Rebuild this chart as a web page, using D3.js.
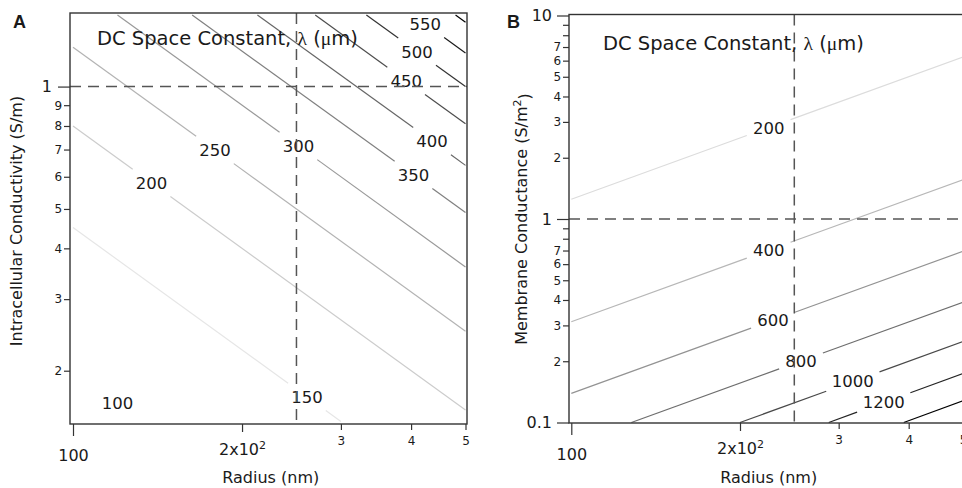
<!DOCTYPE html>
<html lang="en">
<head>
<meta charset="UTF-8">
<title>DC Space Constant</title>
<script src="https://d3js.org/d3.v7.min.js"></script>
<style>
  body { margin: 0; background: #fff; }
  svg text { font-family: "DejaVu Sans", sans-serif; fill: #1a1a1a; }
  .letter { font-family: "Liberation Sans", Arial, sans-serif; font-weight: bold; font-size: 18px; }
  .greek { font-family: "Liberation Serif", serif; }
</style>
</head>
<body>
<svg width="962" height="488"></svg>
<script>
// ---- values ----
// Panel A: intracellular conductivity (S/m) against radius (nm)
const levelsA = [100, 150, 200, 250, 300, 350, 400, 450, 500, 550, 600];
// the two ends of every contour, [radius nm, conductivity S/m]
const startA = [[100, 0.2], [100, 0.45], [100, 0.8], [100, 1.25], [120, 1.5], [163, 1.5],
                [213, 1.5], [270, 1.5], [333, 1.5], [403, 1.5], [480, 1.5]];
const endA = [[133, 0.15], [300, 0.15], [500, 0.16], [500, 0.25], [500, 0.36], [500, 0.49],
              [500, 0.64], [500, 0.81], [500, 1.0], [500, 1.21], [500, 1.44]];
// radius (nm) where each contour carries its label, null = unlabelled
const labelAtA = [120, 261, 138, 179, 252, 404, 436, 392, 410, 424, null];

// Panel B: membrane conductance (S/m^2) against radius (nm)
const levelsB = [200, 400, 600, 800, 1000, 1200, 1400];
const startB = [[100, 1.25], [100, 0.3125], [100, 0.139], [128, 0.1], [200, 0.1], [288, 0.1], [392, 0.1]];
const endB = [[500, 6.25], [500, 1.56], [500, 0.694], [500, 0.39], [500, 0.25], [500, 0.174], [500, 0.128]];
const labelAtB = [225, 225, 229, 257, 318, 361, null];

const radiusDomain = [100, 500];
const condDomainA = [0.15, 1.5];
const condDomainB = [0.1, 10];
const refRadius = 250;  // vertical dashed line
const refValue = 1;     // horizontal dashed line

const xTicks = [100, 200, 300, 400, 500];
const xTickLabels = ["100", "2x10^2", "3", "4", "5"];
const yTicksA = [0.2, 0.3, 0.4, 0.5, 0.6, 0.7, 0.8, 0.9, 1];
const yTickLabelsA = ["2", "3", "4", "5", "6", "7", "8", "9", "1"];
const yTicksB = [0.1, 0.2, 0.3, 0.4, 0.5, 0.6, 0.7, 0.8, 0.9, 1, 2, 3, 4, 5, 6, 7, 8, 9, 10];
const yTickLabelsB = ["0.1", "2", "3", "4", "5", "6", "7", "", "", "1", "2", "3", "4", "5", "6", "7", "", "", "10"];

const svg = d3.select("svg");
svg.append("rect").attr("width", 962).attr("height", 488).attr("fill", "#fff");

const isDecade = v => Math.abs(Math.log10(v) - Math.round(Math.log10(v))) < 1e-9;
const lerp = (a, b, t) => [a[0] + t * (b[0] - a[0]), a[1] + t * (b[1] - a[1])];

const panels = [
  {
    letter: "A", letterPos: [13, 28],
    frame: {x: 70, y: 13, w: 397, h: 411},
    xRange: [73, 465.5], yRange: [421.5, 15], yDomain: condDomainA,
    levels: levelsA, starts: startA, ends: endA, labelAt: labelAtA,
    color: d3.scaleLinear().domain([100, 600]).range(["#ffffff", "#000"]),
    yTicks: yTicksA, yTickLabels: yTickLabelsA, majorPadY: 6,
    yTitle: ["Intracellular Conductivity (S/m)", null], yTitlePos: [22, 221],
    heading: [97, 44.5]
  },
  {
    letter: "B", letterPos: [507, 28],
    frame: {x: 569, y: 14.5, w: 400, h: 408.5},
    xRange: [571.3, 963], yRange: [422.5, 15.5], yDomain: condDomainB,
    levels: levelsB, starts: startB, ends: endB, labelAt: labelAtB,
    color: d3.scaleLinear().domain([200, 1400]).range(["#dcdcdc", "#000"]),
    yTicks: yTicksB, yTickLabels: yTickLabelsB, majorPadY: 5,
    yTitle: ["Membrane Conductance (S/m", ")"], yTitlePos: [527, 219],
    heading: [603, 49.5]
  }
];

function supText(sel, base, sup, tail, supSize) {
  sel.text(null);
  sel.append("tspan").text(base);
  sel.append("tspan").attr("dy", "-0.55em").attr("font-size", supSize).text(sup);
  if (tail) sel.append("tspan").attr("dy", "0.55em").text(tail);
}

function drawPanel(p) {
  const g = svg.append("g");
  const x = d3.scaleLog().domain(radiusDomain).range(p.xRange);
  const y = d3.scaleLog().domain(p.yDomain).range(p.yRange);
  const labels = [];

  // contour lines, broken where the label sits
  p.levels.forEach((lev, i) => {
    const s = p.starts[i], e = p.ends[i];
    const a = [x(s[0]), y(s[1])], b = [x(e[0]), y(e[1])];
    const segs = [];
    const ra = p.labelAt[i];
    if (ra == null) {
      segs.push([a, b]);
    } else {
      const t = (Math.log(ra) - Math.log(s[0])) / (Math.log(e[0]) - Math.log(s[0]));
      const c = lerp(a, b, t);
      const len = Math.hypot(b[0] - a[0], b[1] - a[1]);
      const r = String(lev).length * 0.636 * 16 / 2 + 8;
      const t0 = Math.max(0, t - r / len), t1 = Math.min(1, t + r / len);
      if (t0 > 0) segs.push([a, lerp(a, b, t0)]);
      if (t1 < 1) segs.push([lerp(a, b, t1), b]);
      labels.push({c, lev});
    }
    g.selectAll(null).data(segs).join("path")
      .attr("d", d3.line())
      .attr("fill", "none")
      .attr("stroke", p.color(lev))
      .attr("stroke-width", 1.2);
  });

  g.selectAll(null).data(labels).join("text")
    .attr("x", d => d.c[0]).attr("y", d => d.c[1])
    .attr("dy", "0.36em")
    .attr("text-anchor", "middle")
    .attr("font-size", 16.5)
    .text(d => d.lev);

  // dashed reference lines
  const f = p.frame;
  g.append("line")
    .attr("x1", f.x).attr("x2", f.x + f.w)
    .attr("y1", y(refValue)).attr("y2", y(refValue))
    .attr("stroke", "#555").attr("stroke-width", 1.5).attr("stroke-dasharray", "11,7");
  g.append("line")
    .attr("x1", x(refRadius)).attr("x2", x(refRadius))
    .attr("y1", f.y).attr("y2", f.y + f.h)
    .attr("stroke", "#555").attr("stroke-width", 1.5).attr("stroke-dasharray", "11,7");

  // frame
  g.append("rect")
    .attr("x", f.x).attr("y", f.y).attr("width", f.w).attr("height", f.h)
    .attr("fill", "none").attr("stroke", "#333").attr("stroke-width", 1.4);

  const styleAxis = (sel, size) => {
    sel.select(".domain").remove();
    sel.attr("font-size", size).attr("color", "#333");
    sel.selectAll("line").attr("stroke-width", 1.2);
  };

  // y axis
  const yLab = new Map(p.yTicks.map((t, i) => [t, p.yTickLabels[i]]));
  g.append("g").attr("transform", `translate(${f.x},0)`)
    .call(d3.axisLeft(y).tickValues(p.yTicks.filter(t => !isDecade(t)))
      .tickSize(6).tickPadding(1.8).tickFormat(t => yLab.get(t)))
    .call(s => styleAxis(s, 12));
  g.append("g").attr("transform", `translate(${f.x},0)`)
    .call(d3.axisLeft(y).tickValues(p.yTicks.filter(isDecade))
      .tickSize(12).tickPadding(p.majorPadY).tickFormat(t => yLab.get(t)))
    .call(s => styleAxis(s, 16));

  // x axis: decade tick, 2x10^2 tick, minor digits
  const xLab = new Map(xTicks.map((t, i) => [t, xTickLabels[i]]));
  const axisY = f.y + f.h;
  g.append("g").attr("transform", `translate(0,${axisY})`)
    .call(d3.axisBottom(x).tickValues(xTicks.filter(isDecade))
      .tickSize(12).tickPadding(13.6).tickFormat(t => xLab.get(t)))
    .call(s => styleAxis(s, 16));
  g.append("g").attr("transform", `translate(0,${axisY})`)
    .call(d3.axisBottom(x).tickValues(xTicks.filter(t => xLab.get(t).includes("^")))
      .tickSize(8).tickPadding(11.6).tickFormat(t => xLab.get(t)))
    .call(s => styleAxis(s, 16))
    .selectAll("text").each(function() {
      const parts = d3.select(this).text().split("^");
      supText(d3.select(this), parts[0], parts[1], null, 11);
    });
  g.append("g").attr("transform", `translate(0,${axisY})`)
    .call(d3.axisBottom(x).tickValues(xTicks.filter(t => !isDecade(t) && !xLab.get(t).includes("^")))
      .tickSize(6).tickPadding(6.5).tickFormat(t => xLab.get(t)))
    .call(s => styleAxis(s, 12));

  // titles
  const ht = g.append("text").attr("x", p.heading[0]).attr("y", p.heading[1]).attr("font-size", 19.5);
  ht.append("tspan").text("DC Space Constant, ");
  ht.append("tspan").attr("class", "greek").text("λ");
  ht.append("tspan").text(" (");
  ht.append("tspan").attr("class", "greek").text("μ");
  ht.append("tspan").text("m)");

  const yt = g.append("text")
    .attr("transform", `translate(${p.yTitlePos[0]},${p.yTitlePos[1]}) rotate(-90)`)
    .attr("text-anchor", "middle").attr("font-size", 16);
  if (p.yTitle[1] == null) yt.text(p.yTitle[0]);
  else supText(yt, p.yTitle[0], "2", p.yTitle[1], 11);

  g.append("text")
    .attr("x", (p.xRange[0] + p.xRange[1]) / 2 + 1.5).attr("y", 483)
    .attr("text-anchor", "middle").attr("font-size", 16)
    .text("Radius (nm)");

  g.append("text").attr("class", "letter")
    .attr("x", p.letterPos[0]).attr("y", p.letterPos[1])
    .text(p.letter);
}

panels.forEach(drawPanel);
</script>
</body>
</html>
